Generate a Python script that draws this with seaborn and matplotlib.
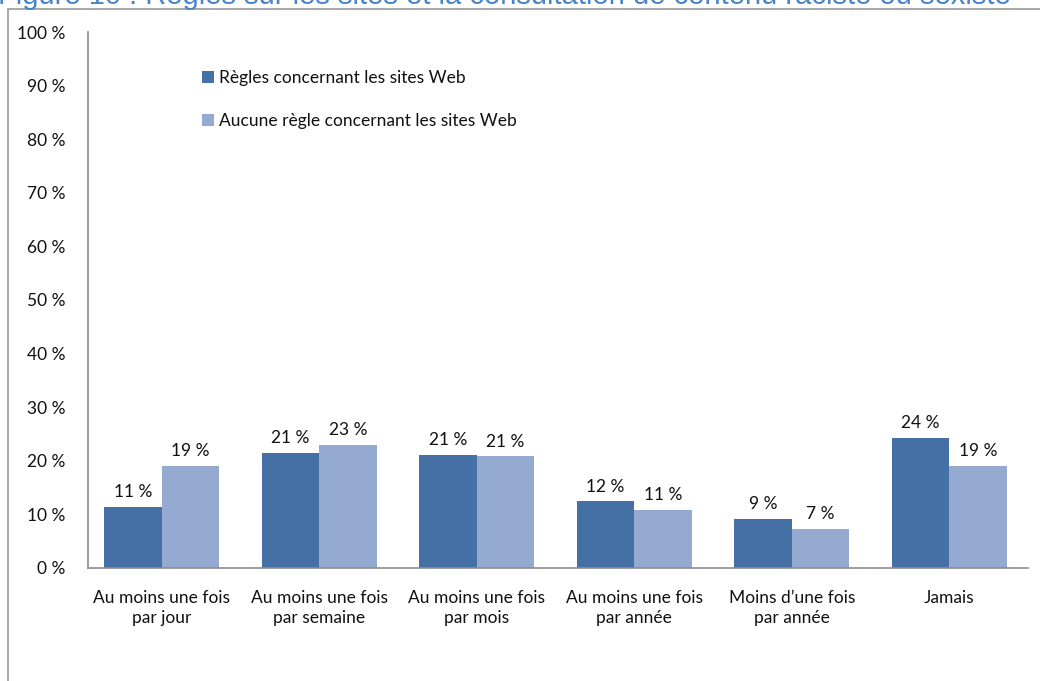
import matplotlib
matplotlib.use("Agg")
import matplotlib.pyplot as plt
import matplotlib.ticker as mticker
from matplotlib.patches import Rectangle
import seaborn as sns
import pandas as pd

# Frequency of consulting racist or sexist content, by presence of website rules
categories = [
    "Au moins une fois\npar jour",
    "Au moins une fois\npar semaine",
    "Au moins une fois\npar mois",
    "Au moins une fois\npar année",
    "Moins d\u2019une fois\npar année",
    "Jamais",
]
series_names = [
    "Règles concernant les sites Web",
    "Aucune règle concernant les sites Web",
]
rules_values = [11.3, 21.4, 21.1, 12.4, 9.1, 24.3]
no_rules_values = [19.1, 23.0, 20.8, 10.9, 7.3, 19.0]
y_ticks = [0, 10, 20, 30, 40, 50, 60, 70, 80, 90, 100]
title_text = "Figure 10 : Règles sur les sites et la consultation de contenu raciste ou sexiste"

colors = ["#4570A6", "#94AAD0"]

df = pd.DataFrame({
    "categorie": categories * 2,
    "serie": [series_names[0]] * len(categories) + [series_names[1]] * len(categories),
    "valeur": rules_values + no_rules_values,
})

sns.set_theme(style="white")
plt.rcParams["font.family"] = ["Lato", "DejaVu Sans"]

fig = plt.figure(figsize=(10.4, 6.81), dpi=100)
ax = fig.add_axes([88 / 1040, 0.166, 940 / 1040, 0.787])

sns.barplot(data=df, x="categorie", y="valeur", hue="serie", order=categories,
            hue_order=series_names, palette=colors, width=0.73, saturation=1,
            edgecolor="none", ax=ax)

for cont in ax.containers:
    ax.bar_label(cont, labels=[f"{v:.0f} %" for v in cont.datavalues],
                 padding=5, fontsize=12.5, color="#111111")

ax.set_ylim(0, 100)
ax.set_yticks(y_ticks)
ax.yaxis.set_major_formatter(mticker.FuncFormatter(lambda v, p: f"{v:.0f} %"))
ax.set_xlim(-0.468, len(categories) - 0.5)
ax.set_xlabel("")
ax.set_ylabel("")
ax.tick_params(axis="both", length=0, labelsize=12.5, colors="#111111")
ax.tick_params(axis="y", pad=16.5)
ax.tick_params(axis="x", pad=16)
for lbl in ax.get_xticklabels():
    lbl.set_linespacing(1.3)

for side in ["top", "right"]:
    ax.spines[side].set_visible(False)
for side in ["left", "bottom"]:
    ax.spines[side].set_color("#8C8C8C")
    ax.spines[side].set_linewidth(1.2)

leg = ax.legend(loc="upper left", bbox_to_anchor=(0.11, 0.948), frameon=False,
                fontsize=12.5, handlelength=0.7, handleheight=0.7,
                handletextpad=0.3, labelspacing=1.55, borderaxespad=0.2)
for t in leg.get_texts():
    t.set_color("#111111")

# Outer chart frame
fig.patches.append(Rectangle((8 / 1040, -0.1), 1.2, 1 - 9 / 681 + 0.1,
                             transform=fig.transFigure, fill=False,
                             edgecolor="#A0A0A0", linewidth=1.3))

fig.text(-0.002, 1 - 4 / 681, title_text, color="#4A84C8", fontsize=21,
         family=["Liberation Sans", "DejaVu Sans"], va="baseline", ha="left")

fig.savefig("out.png", dpi=100)
